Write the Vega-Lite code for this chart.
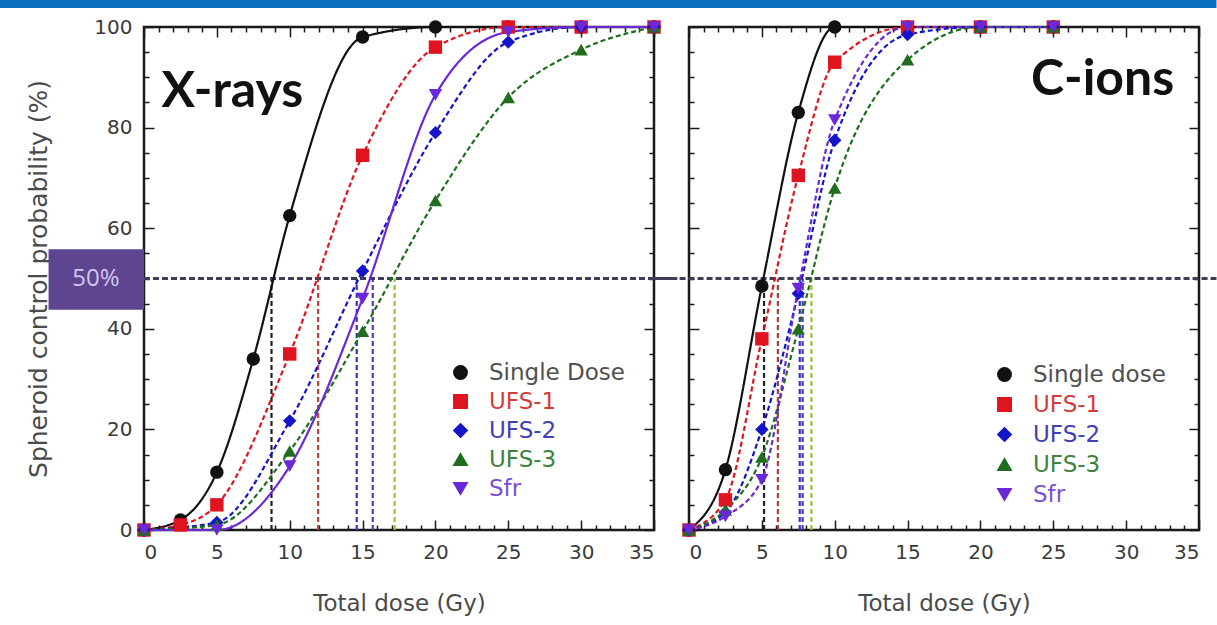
{
  "$schema": "https://vega.github.io/schema/vega-lite/v6.json",
  "background": "white",
  "padding": {"left": -3, "top": -2, "right": 0, "bottom": 5},
  "config": {
    "font": "DejaVu Sans",
    "view": {"stroke": "#1a1a1a", "strokeWidth": 2.5},
    "axis": {
      "domain": false, "grid": false,
      "labelFont": "DejaVu Sans", "labelFontSize": 20, "labelColor": "#3a3a3a",
      "titleFont": "DejaVu Sans", "titleFontSize": 23, "titleFontWeight": "normal", "titleColor": "#4a4a4a",
      "tickColor": "#1a1a1a", "tickWidth": 1.5
    },
    "legend": {"labelFont": "DejaVu Sans", "labelFontSize": 23, "padding": 0}
  },
  "datasets": {
    "points": [
      {"panel": "X-rays", "series": "Single Dose", "dose": 0, "p": 0},
      {"panel": "X-rays", "series": "Single Dose", "dose": 2.5, "p": 2},
      {"panel": "X-rays", "series": "Single Dose", "dose": 5, "p": 11.5},
      {"panel": "X-rays", "series": "Single Dose", "dose": 7.5, "p": 34},
      {"panel": "X-rays", "series": "Single Dose", "dose": 10, "p": 62.5},
      {"panel": "X-rays", "series": "Single Dose", "dose": 15, "p": 98},
      {"panel": "X-rays", "series": "Single Dose", "dose": 20, "p": 100},
      {"panel": "X-rays", "series": "Single Dose", "dose": 25, "p": 100},
      {"panel": "X-rays", "series": "Single Dose", "dose": 30, "p": 100},
      {"panel": "X-rays", "series": "Single Dose", "dose": 35, "p": 100},
      {"panel": "X-rays", "series": "UFS-1", "dose": 0, "p": 0},
      {"panel": "X-rays", "series": "UFS-1", "dose": 2.5, "p": 1},
      {"panel": "X-rays", "series": "UFS-1", "dose": 5, "p": 5},
      {"panel": "X-rays", "series": "UFS-1", "dose": 10, "p": 35},
      {"panel": "X-rays", "series": "UFS-1", "dose": 15, "p": 74.5},
      {"panel": "X-rays", "series": "UFS-1", "dose": 20, "p": 96},
      {"panel": "X-rays", "series": "UFS-1", "dose": 25, "p": 100},
      {"panel": "X-rays", "series": "UFS-1", "dose": 30, "p": 100},
      {"panel": "X-rays", "series": "UFS-1", "dose": 35, "p": 100},
      {"panel": "X-rays", "series": "UFS-2", "dose": 0, "p": 0},
      {"panel": "X-rays", "series": "UFS-2", "dose": 5, "p": 1.5},
      {"panel": "X-rays", "series": "UFS-2", "dose": 10, "p": 21.7},
      {"panel": "X-rays", "series": "UFS-2", "dose": 15, "p": 51.5},
      {"panel": "X-rays", "series": "UFS-2", "dose": 20, "p": 79},
      {"panel": "X-rays", "series": "UFS-2", "dose": 25, "p": 97},
      {"panel": "X-rays", "series": "UFS-2", "dose": 30, "p": 100},
      {"panel": "X-rays", "series": "UFS-2", "dose": 35, "p": 100},
      {"panel": "X-rays", "series": "UFS-3", "dose": 0, "p": 0},
      {"panel": "X-rays", "series": "UFS-3", "dose": 5, "p": 1},
      {"panel": "X-rays", "series": "UFS-3", "dose": 10, "p": 15.7},
      {"panel": "X-rays", "series": "UFS-3", "dose": 15, "p": 39.5},
      {"panel": "X-rays", "series": "UFS-3", "dose": 20, "p": 65.5},
      {"panel": "X-rays", "series": "UFS-3", "dose": 25, "p": 86},
      {"panel": "X-rays", "series": "UFS-3", "dose": 30, "p": 95.5},
      {"panel": "X-rays", "series": "UFS-3", "dose": 35, "p": 100},
      {"panel": "X-rays", "series": "Sfr", "dose": 0, "p": 0},
      {"panel": "X-rays", "series": "Sfr", "dose": 5, "p": 0},
      {"panel": "X-rays", "series": "Sfr", "dose": 10, "p": 12.7},
      {"panel": "X-rays", "series": "Sfr", "dose": 15, "p": 46},
      {"panel": "X-rays", "series": "Sfr", "dose": 20, "p": 86.5},
      {"panel": "X-rays", "series": "Sfr", "dose": 25, "p": 99},
      {"panel": "X-rays", "series": "Sfr", "dose": 30, "p": 100},
      {"panel": "X-rays", "series": "Sfr", "dose": 35, "p": 100},
      {"panel": "C-ions", "series": "Single dose", "dose": 0, "p": 0},
      {"panel": "C-ions", "series": "Single dose", "dose": 2.5, "p": 12},
      {"panel": "C-ions", "series": "Single dose", "dose": 5, "p": 48.5},
      {"panel": "C-ions", "series": "Single dose", "dose": 7.5, "p": 83},
      {"panel": "C-ions", "series": "Single dose", "dose": 10, "p": 100},
      {"panel": "C-ions", "series": "Single dose", "dose": 15, "p": 100},
      {"panel": "C-ions", "series": "Single dose", "dose": 20, "p": 100},
      {"panel": "C-ions", "series": "Single dose", "dose": 25, "p": 100},
      {"panel": "C-ions", "series": "UFS-1", "dose": 0, "p": 0},
      {"panel": "C-ions", "series": "UFS-1", "dose": 2.5, "p": 6},
      {"panel": "C-ions", "series": "UFS-1", "dose": 5, "p": 38},
      {"panel": "C-ions", "series": "UFS-1", "dose": 7.5, "p": 70.5},
      {"panel": "C-ions", "series": "UFS-1", "dose": 10, "p": 93},
      {"panel": "C-ions", "series": "UFS-1", "dose": 15, "p": 100},
      {"panel": "C-ions", "series": "UFS-1", "dose": 20, "p": 100},
      {"panel": "C-ions", "series": "UFS-1", "dose": 25, "p": 100},
      {"panel": "C-ions", "series": "UFS-2", "dose": 0, "p": 0},
      {"panel": "C-ions", "series": "UFS-2", "dose": 2.5, "p": 3.5},
      {"panel": "C-ions", "series": "UFS-2", "dose": 5, "p": 20},
      {"panel": "C-ions", "series": "UFS-2", "dose": 7.5, "p": 47},
      {"panel": "C-ions", "series": "UFS-2", "dose": 10, "p": 77.5},
      {"panel": "C-ions", "series": "UFS-2", "dose": 15, "p": 98.5},
      {"panel": "C-ions", "series": "UFS-2", "dose": 20, "p": 100},
      {"panel": "C-ions", "series": "UFS-2", "dose": 25, "p": 100},
      {"panel": "C-ions", "series": "UFS-3", "dose": 0, "p": 0},
      {"panel": "C-ions", "series": "UFS-3", "dose": 2.5, "p": 4},
      {"panel": "C-ions", "series": "UFS-3", "dose": 5, "p": 14.5},
      {"panel": "C-ions", "series": "UFS-3", "dose": 7.5, "p": 40},
      {"panel": "C-ions", "series": "UFS-3", "dose": 10, "p": 68},
      {"panel": "C-ions", "series": "UFS-3", "dose": 15, "p": 93.5},
      {"panel": "C-ions", "series": "UFS-3", "dose": 20, "p": 100},
      {"panel": "C-ions", "series": "UFS-3", "dose": 25, "p": 100},
      {"panel": "C-ions", "series": "Sfr", "dose": 0, "p": 0},
      {"panel": "C-ions", "series": "Sfr", "dose": 2.5, "p": 2.7},
      {"panel": "C-ions", "series": "Sfr", "dose": 5, "p": 10},
      {"panel": "C-ions", "series": "Sfr", "dose": 7.5, "p": 48},
      {"panel": "C-ions", "series": "Sfr", "dose": 10, "p": 81.5},
      {"panel": "C-ions", "series": "Sfr", "dose": 15, "p": 100},
      {"panel": "C-ions", "series": "Sfr", "dose": 20, "p": 100},
      {"panel": "C-ions", "series": "Sfr", "dose": 25, "p": 100}
    ],
    "ed50": [
      {"panel": "X-rays", "series": "Single Dose", "dose50": 8.75},
      {"panel": "X-rays", "series": "UFS-1", "dose50": 11.95},
      {"panel": "X-rays", "series": "UFS-2", "dose50": 14.6},
      {"panel": "X-rays", "series": "Sfr", "dose50": 15.7},
      {"panel": "X-rays", "series": "UFS-3", "dose50": 17.2},
      {"panel": "C-ions", "series": "Single dose", "dose50": 5.15},
      {"panel": "C-ions", "series": "UFS-1", "dose50": 6.1},
      {"panel": "C-ions", "series": "UFS-2", "dose50": 7.6},
      {"panel": "C-ions", "series": "Sfr", "dose50": 7.8},
      {"panel": "C-ions", "series": "UFS-3", "dose50": 8.4}
    ],
    "labels": [
      {"panel": "X-rays", "label": "X-rays"},
      {"panel": "C-ions", "label": "C-ions"},
      {"panel": "X-rays", "label": "50%"}
    ]
  },
  "hconcat": [
    {
      "width": 510,
      "height": 503,
      "layer": [
        {
          "data": {"name": "labels"},
          "transform": [{"filter": "datum.label === '50%'"}],
          "mark": {"type": "rect", "color": "#0a6ebd", "clip": false},
          "encoding": {
            "x": {"datum": -9.95, "type": "quantitative", "scale": {"domain": [0, 35], "nice": false}, "axis": null},
            "x2": {"datum": 36.6},
            "y": {"datum": 103.8, "type": "quantitative", "scale": {"domain": [0, 100], "nice": false}, "axis": null},
            "y2": {"datum": 105.4}
          }
        },
        {
          "data": {"name": "labels"},
          "transform": [{"filter": "datum.label === '50%'"}],
          "mark": {"type": "rect", "color": "#5e4590", "clip": false},
          "encoding": {
            "x": {"datum": -6.55, "type": "quantitative", "axis": null},
            "x2": {"datum": 0},
            "y": {"datum": 43.8, "type": "quantitative", "axis": null},
            "y2": {"datum": 55.8}
          }
        },
        {
          "data": {"name": "labels"},
          "transform": [{"filter": "datum.label === '50%'"}],
          "mark": {"type": "text", "color": "#d4c6ee", "fontSize": 24, "font": "Open Sans", "align": "center", "baseline": "middle"},
          "encoding": {
            "x": {"datum": -3.3, "type": "quantitative", "axis": null},
            "y": {"datum": 50, "type": "quantitative", "axis": null},
            "text": {"field": "label"}
          }
        },
        {
          "data": {"name": "ed50"},
          "transform": [{"filter": "datum.panel === 'X-rays'"}],
          "mark": {"type": "rule", "strokeDash": [5, 3], "strokeWidth": 2.2},
          "encoding": {
            "x": {"field": "dose50", "type": "quantitative", "axis": null},
            "y": {"datum": 0, "type": "quantitative", "axis": null},
            "y2": {"datum": 50},
            "stroke": {"field": "series", "type": "nominal", "legend": null,
              "scale": {"domain": ["UFS-3", "Sfr", "UFS-2", "UFS-1", "Single Dose"], "range": ["#9dbf3a", "#4a3cc0", "#3434c0", "#c0403c", "#222222"]}}
          }
        },
        {
          "data": {"name": "labels"},
          "transform": [{"filter": "datum.label === '50%'"}],
          "mark": {"type": "rule", "strokeDash": [6, 3], "strokeWidth": 3, "color": "#3e3e58", "clip": false},
          "encoding": {
            "x": {"datum": 0, "type": "quantitative", "axis": null},
            "x2": {"datum": 36.6},
            "y": {"datum": 50, "type": "quantitative", "axis": null}
          }
        },
        {
          "data": {"name": "points"},
          "transform": [{"filter": "datum.panel === 'X-rays'"}],
          "mark": {"type": "line", "interpolate": "monotone", "strokeWidth": 2.2},
          "encoding": {
            "x": {"field": "dose", "type": "quantitative", "axis": null},
            "y": {"field": "p", "type": "quantitative", "axis": null},
            "color": {"field": "series", "type": "nominal"},
            "strokeDash": {"field": "series", "type": "nominal", "legend": null,
              "scale": {"domain": ["Sfr", "Single Dose", "UFS-1", "UFS-2", "UFS-3"], "range": [[1, 0], [1, 0], [5, 3], [5, 3], [5, 3]]}}
          }
        },
        {
          "data": {"name": "points"},
          "transform": [{"filter": "datum.panel === 'X-rays'"}],
          "mark": {"type": "point", "filled": true, "size": 180, "opacity": 1},
          "encoding": {
            "x": {"field": "dose", "type": "quantitative",
              "axis": {"orient": "bottom", "title": "Total dose (Gy)", "titlePadding": 30,
                "values": [0,1,2,3,4,5,6,7,8,9,10,11,12,13,14,15,16,17,18,19,20,21,22,23,24,25,26,27,28,29,30,31,32,33,34,35],
                "labelExpr": "datum.value % 5 === 0 ? datum.label : ''",
                "tickSize": {"condition": {"test": "datum.value % 5 === 0", "value": -10}, "value": -5},
                "labelPadding": 22}},
            "y": {"field": "p", "type": "quantitative",
              "axis": {"orient": "left", "title": "Spheroid control probability (%)", "titlePadding": 42, "titleFontSize": 25,
                "values": [0,5,10,15,20,25,30,35,40,45,50,55,60,65,70,75,80,85,90,95,100],
                "labelExpr": "datum.value % 20 === 0 ? datum.label : ''",
                "tickSize": {"condition": {"test": "datum.value % 20 === 0", "value": -10}, "value": -5},
                "labelPadding": 22}},
            "color": {"field": "series", "type": "nominal",
              "scale": {"domain": ["Single Dose", "UFS-1", "UFS-2", "UFS-3", "Sfr"], "range": ["#111111", "#e0141e", "#1414c8", "#1e6e1e", "#6a28d8"]},
              "legend": {"title": null, "orient": "none", "legendX": 305, "legendY": 334, "symbolSize": 180, "rowPadding": 5, "labelOffset": 17,
                "labelColor": {"expr": "datum.value === 'UFS-1' ? '#d23c3c' : datum.value === 'UFS-2' ? '#4040b8' : datum.value === 'UFS-3' ? '#3e823e' : datum.value === 'Sfr' ? '#7a50d8' : '#505050'"}}},
            "shape": {"field": "series", "type": "nominal",
              "scale": {"domain": ["Single Dose", "UFS-1", "UFS-2", "UFS-3", "Sfr"], "range": ["circle", "square", "diamond", "triangle-up", "triangle-down"]}}
          }
        },
        {
          "data": {"name": "labels"},
          "transform": [{"filter": "datum.label === 'X-rays'"}],
          "mark": {"type": "text", "font": "Lato", "fontWeight": "bold", "fontSize": 50, "align": "left", "baseline": "middle", "color": "#111111"},
          "encoding": {
            "x": {"datum": 1.2, "type": "quantitative", "axis": null},
            "y": {"datum": 87, "type": "quantitative", "axis": null},
            "text": {"field": "label"}
          }
        },
        {
          "data": {"name": "points"},
          "transform": [{"filter": "datum.panel === 'X-rays'"}],
          "mark": {"type": "point", "opacity": 0},
          "encoding": {
            "x": {"field": "dose", "type": "quantitative",
              "axis": {"orient": "top", "title": null, "labels": false,
                "values": [0,1,2,3,4,5,6,7,8,9,10,11,12,13,14,15,16,17,18,19,20,21,22,23,24,25,26,27,28,29,30,31,32,33,34,35],
                "tickSize": {"condition": {"test": "datum.value % 5 === 0", "value": -10}, "value": -5}}},
            "y": {"field": "p", "type": "quantitative",
              "axis": {"orient": "right", "title": null, "labels": false,
                "values": [0,5,10,15,20,25,30,35,40,45,50,55,60,65,70,75,80,85,90,95,100],
                "tickSize": {"condition": {"test": "datum.value % 20 === 0", "value": -10}, "value": -5}}}
          }
        }
      ],
      "resolve": {"axis": {"x": "independent", "y": "independent"}}
    },
    {
      "width": 510,
      "height": 503,
      "layer": [
        {
          "data": {"name": "labels"},
          "transform": [{"filter": "datum.label === '50%'"}],
          "mark": {"type": "rect", "color": "#0a6ebd", "clip": false},
          "encoding": {
            "x": {"datum": -2.5, "type": "quantitative", "scale": {"domain": [0, 35], "nice": false}, "axis": null},
            "x2": {"datum": 36.2},
            "y": {"datum": 103.8, "type": "quantitative", "scale": {"domain": [0, 100], "nice": false}, "axis": null},
            "y2": {"datum": 105.4}
          }
        },
        {
          "data": {"name": "ed50"},
          "transform": [{"filter": "datum.panel === 'C-ions'"}],
          "mark": {"type": "rule", "strokeDash": [5, 3], "strokeWidth": 2.2},
          "encoding": {
            "x": {"field": "dose50", "type": "quantitative", "axis": null},
            "y": {"datum": 0, "type": "quantitative", "axis": null},
            "y2": {"datum": 50},
            "stroke": {"field": "series", "type": "nominal", "legend": null,
              "scale": {"domain": ["UFS-3", "Sfr", "UFS-2", "UFS-1", "Single dose"], "range": ["#9dbf3a", "#4a3cc0", "#3434c0", "#a0403c", "#222222"]}}
          }
        },
        {
          "data": {"name": "labels"},
          "transform": [{"filter": "datum.label === '50%'"}],
          "mark": {"type": "rule", "strokeDash": [6, 3], "strokeWidth": 3, "color": "#3e3e58", "clip": false},
          "encoding": {
            "x": {"datum": -2.5, "type": "quantitative", "axis": null},
            "x2": {"datum": 36.2},
            "y": {"datum": 50, "type": "quantitative", "axis": null}
          }
        },
        {
          "data": {"name": "points"},
          "transform": [{"filter": "datum.panel === 'C-ions'"}],
          "mark": {"type": "line", "interpolate": "monotone", "strokeWidth": 2.2},
          "encoding": {
            "x": {"field": "dose", "type": "quantitative", "axis": null},
            "y": {"field": "p", "type": "quantitative", "axis": null},
            "color": {"field": "series", "type": "nominal"},
            "strokeDash": {"field": "series", "type": "nominal", "legend": null,
              "scale": {"domain": ["Sfr", "Single dose", "UFS-1", "UFS-2", "UFS-3"], "range": [[5, 3], [1, 0], [5, 3], [5, 3], [5, 3]]}}
          }
        },
        {
          "data": {"name": "points"},
          "transform": [{"filter": "datum.panel === 'C-ions'"}],
          "mark": {"type": "point", "filled": true, "size": 180, "opacity": 1},
          "encoding": {
            "x": {"field": "dose", "type": "quantitative",
              "axis": {"orient": "bottom", "title": "Total dose (Gy)", "titlePadding": 30,
                "values": [0,1,2,3,4,5,6,7,8,9,10,11,12,13,14,15,16,17,18,19,20,21,22,23,24,25,26,27,28,29,30,31,32,33,34,35],
                "labelExpr": "datum.value % 5 === 0 ? datum.label : ''",
                "tickSize": {"condition": {"test": "datum.value % 5 === 0", "value": -10}, "value": -5},
                "labelPadding": 22}},
            "y": {"field": "p", "type": "quantitative",
              "axis": {"orient": "left", "title": null, "labels": false,
                "values": [0,5,10,15,20,25,30,35,40,45,50,55,60,65,70,75,80,85,90,95,100],
                "tickSize": {"condition": {"test": "datum.value % 20 === 0", "value": -10}, "value": -5}}},
            "color": {"field": "series", "type": "nominal",
              "scale": {"domain": ["Single dose", "UFS-1", "UFS-2", "UFS-3", "Sfr"], "range": ["#111111", "#e0141e", "#1414c8", "#1e6e1e", "#6a28d8"]},
              "legend": {"title": null, "orient": "none", "legendX": 304, "legendY": 336, "symbolSize": 180, "rowPadding": 6, "labelOffset": 17,
                "labelColor": {"expr": "datum.value === 'UFS-1' ? '#d23c3c' : datum.value === 'UFS-2' ? '#4040b8' : datum.value === 'UFS-3' ? '#3e823e' : datum.value === 'Sfr' ? '#7a50d8' : '#505050'"}}},
            "shape": {"field": "series", "type": "nominal",
              "scale": {"domain": ["Single dose", "UFS-1", "UFS-2", "UFS-3", "Sfr"], "range": ["circle", "square", "diamond", "triangle-up", "triangle-down"]}}
          }
        },
        {
          "data": {"name": "labels"},
          "transform": [{"filter": "datum.label === 'C-ions'"}],
          "mark": {"type": "text", "font": "Lato", "fontWeight": "bold", "fontSize": 50, "align": "right", "baseline": "middle", "color": "#111111"},
          "encoding": {
            "x": {"datum": 33.3, "type": "quantitative", "axis": null},
            "y": {"datum": 89.5, "type": "quantitative", "axis": null},
            "text": {"field": "label"}
          }
        },
        {
          "data": {"name": "points"},
          "transform": [{"filter": "datum.panel === 'C-ions'"}],
          "mark": {"type": "point", "opacity": 0},
          "encoding": {
            "x": {"field": "dose", "type": "quantitative",
              "axis": {"orient": "top", "title": null, "labels": false,
                "values": [0,1,2,3,4,5,6,7,8,9,10,11,12,13,14,15,16,17,18,19,20,21,22,23,24,25,26,27,28,29,30,31,32,33,34,35],
                "tickSize": {"condition": {"test": "datum.value % 5 === 0", "value": -10}, "value": -5}}},
            "y": {"field": "p", "type": "quantitative",
              "axis": {"orient": "right", "title": null, "labels": false,
                "values": [0,5,10,15,20,25,30,35,40,45,50,55,60,65,70,75,80,85,90,95,100],
                "tickSize": {"condition": {"test": "datum.value % 20 === 0", "value": -10}, "value": -5}}}
          }
        }
      ],
      "resolve": {"axis": {"x": "independent", "y": "independent"}}
    }
  ],
  "bounds": "flush",
  "spacing": 35,
  "resolve": {
    "scale": {"x": "independent", "y": "independent", "color": "independent", "shape": "independent", "strokeDash": "independent", "stroke": "independent"},
    "legend": {"color": "independent", "shape": "independent"}
  }
}
